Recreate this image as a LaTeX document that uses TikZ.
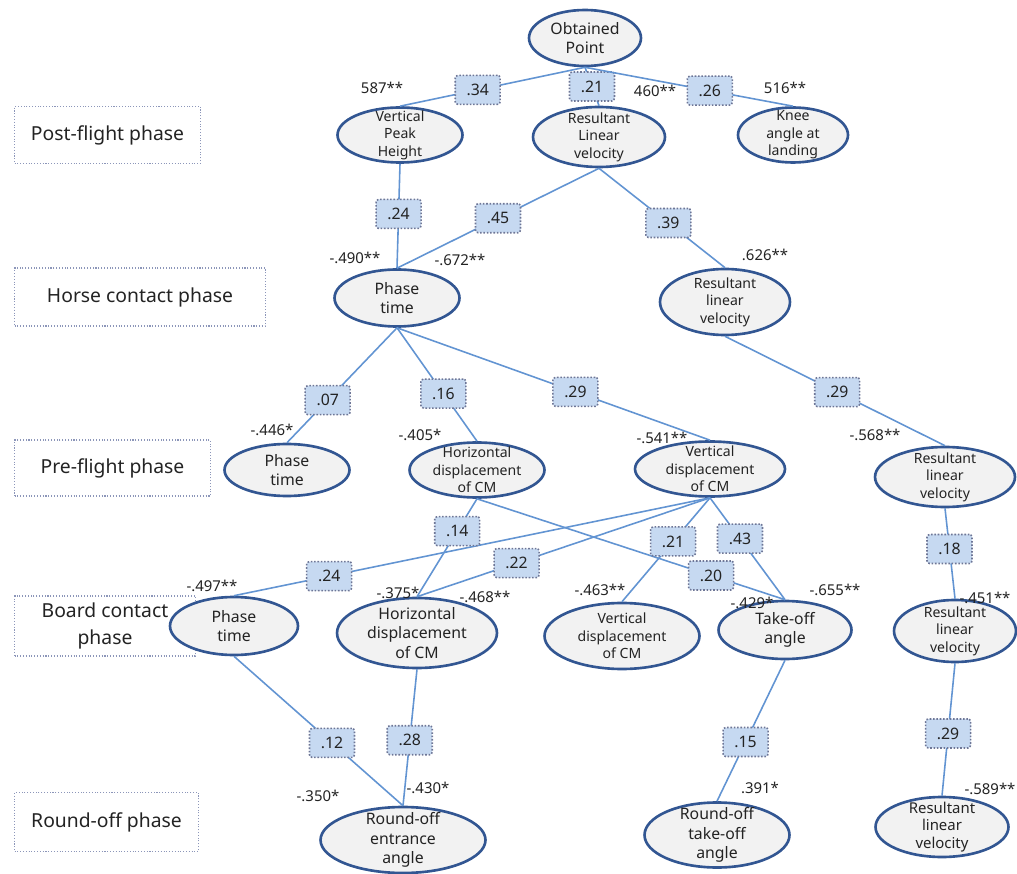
\documentclass[tikz,border=0pt]{standalone}
\usepackage{fontspec}
\setmainfont{Noto Sans}
\usetikzlibrary{shapes.geometric}

\definecolor{rim}{RGB}{50,86,146}
\definecolor{shade}{RGB}{242,242,242}
\definecolor{wire}{RGB}{98,148,210}
\definecolor{chip}{RGB}{198,217,241}
\definecolor{dots}{RGB}{110,118,150}
\definecolor{frame}{RGB}{140,150,185}
\definecolor{ink}{RGB}{35,35,35}

\begin{document}
\begin{tikzpicture}[
    x=0.02cm, y=-0.02cm,
    var/.style 2 args={ellipse, draw=rim, line width=1.5pt, fill=shade, minimum width=#1, minimum height=#2, inner sep=0pt},
    every label/.style={align=center, text=ink, font=\fontsize{8}{10}\selectfont, inner sep=0pt},
    big/.style={font=\fontsize{9}{11}\selectfont},
    phase/.style={draw=frame, densely dotted, line width=0.6pt, anchor=west, text=ink, font=\fontsize{11}{15}\selectfont, align=center},
    val/.style={draw=dots, densely dotted, fill=chip, rounded corners=1.5pt, minimum width=0.9cm, minimum height=0.58cm, inner sep=0pt, text=ink, font=\fontsize{9}{11}\selectfont},
    link/.style={draw=wire, line width=0.9pt},
    coef/.style={text=ink, font=\fontsize{8.5}{10}\selectfont, inner sep=0pt},
]
\useasboundingbox (0,0) rectangle (1017,874);

% post-flight phase
\node[phase, minimum width=3.72cm, minimum height=1.14cm] (post) at (14,135) {Post-flight phase};
\node[var={2.24cm}{1.12cm}, label={[big]center:Obtained\\Point}] (op) at (585,38) {};
\node[var={2.5cm}{1.1cm}, label={center:Vertical\\Peak\\Height}] (vph) at (400,135) {};
\node[var={2.64cm}{1.2cm}, label={center:Resultant\\Linear\\velocity}] (rlv1) at (599,137) {};
\node[var={2.2cm}{1.1cm}, label={center:Knee\\angle at\\landing}] (knee) at (793,135) {};

% horse contact phase
\node[phase, minimum width=5.02cm, minimum height=1.16cm] (horse) at (14,297) {Horse contact phase};
\node[var={2.5cm}{1.14cm}, label={[big]center:Phase\\time}] (pt1) at (397,298) {};
\node[var={2.6cm}{1.32cm}, label={center:Resultant\\linear\\velocity}] (rlv2) at (725,302) {};

% pre-flight phase
\node[phase, minimum width=3.92cm, minimum height=1.12cm] (pre) at (14,468) {Pre-flight phase};
\node[var={2.5cm}{1.04cm}, label={[big]center:Phase\\time}] (pt2) at (287,470) {};
\node[var={2.7cm}{1.1cm}, label={center:Horizontal\\displacement\\of CM}] (hd2) at (477,470) {};
\node[var={3.0cm}{1.1cm}, label={center:Vertical\\displacement\\of CM}] (vd2) at (710,469) {};
\node[var={2.8cm}{1.2cm}, label={center:Resultant\\linear\\velocity}] (rlv3) at (945,477) {};

% board contact phase
\node[phase, minimum width=3.62cm, minimum height=1.2cm] (board) at (14,626) {Board contact\\phase};
\node[var={2.56cm}{1.16cm}, label={[big]center:Phase\\time}] (pt3) at (234,626) {};
\node[var={3.2cm}{1.4cm}, label={[big]center:Horizontal\\displacement\\of CM}] (hd3) at (417,633) {};
\node[var={3.1cm}{1.32cm}, label={center:Vertical\\displacement\\of CM}] (vd3) at (622,636) {};
\node[var={2.66cm}{1.16cm}, label={[big]center:Take-off\\angle}] (to) at (785,630) {};
\node[var={2.44cm}{1.24cm}, label={center:Resultant\\linear\\velocity}] (rlv4) at (955,631) {};

% round-off phase
\node[phase, minimum width=3.68cm, minimum height=1.18cm] (round) at (14,822) {Round-off phase};
\node[var={3.3cm}{1.32cm}, label={[big]center:Round-off\\entrance\\angle}] (rea) at (403,840) {};
\node[var={2.9cm}{1.3cm}, label={[big]center:Round-off\\take-off\\angle}] (rta) at (717,835) {};
\node[var={2.66cm}{1.2cm}, label={[font=\fontsize{8.5}{10}\selectfont]center:Resultant\\linear\\velocity}] (rlv5) at (942,827) {};

% paths
\draw[link] (op.south) -- node[val, pos=0.58] (op-vph) {.34} (vph.north);
\draw[link] (op.south) -- node[val, pos=0.5] (op-rlv1) {.21} (rlv1.north);
\draw[link] (op.south) -- node[val, pos=0.6] (op-knee) {.26} (knee.north);
\draw[link] (vph.south) -- node[val, pos=0.48] (vph-pt1) {.24} (pt1.north);
\draw[link] (rlv1.south) -- node[val, pos=0.5] (rlv1-pt1) {.45} (pt1.north);
\draw[link] (rlv1.south) -- node[val, pos=0.55] (rlv1-rlv2) {.39} (rlv2.north);
\draw[link] (pt1.south) -- node[val, pos=0.63] (pt1-pt2) {.07} (pt2.north);
\draw[link] (pt1.south) -- node[val, pos=0.58] (pt1-hd2) {.16} (hd2.north);
\draw[link] (pt1.south) -- node[val, pos=0.57] (pt1-vd2) {.29} (vd2.north);
\draw[link] (rlv2.south) -- node[val, pos=0.51] (rlv2-rlv3) {.29} (rlv3.north);
\draw[link] (vd2.south) -- node[val, pos=0.8] (vd2-pt3) {.24} (pt3.north);
\draw[link] (vd2.south) -- node[val, pos=0.66] (vd2-hd3) {.22} (hd3.north);
\draw[link] (hd2.south) -- node[val, pos=0.33] (hd2-hd3) {.14} (hd3.north);
\draw[link] (hd2.south) -- node[val, pos=0.76] (hd2-to) {.20} (to.north);
\draw[link] (vd2.south) -- node[val, pos=0.42] (vd2-vd3) {.21} (vd3.north);
\draw[link] (vd2.south) -- node[val, pos=0.4] (vd2-to) {.43} (to.north);
\draw[link] (rlv3.south) -- node[val, pos=0.45] (rlv3-rlv4) {.18} (rlv4.north);
\draw[link] (pt3.south) -- node[val, pos=0.58] (pt3-rea) {.12} (rea.north);
\draw[link] (hd3.south) -- node[val, pos=0.52] (hd3-rea) {.28} (rea.north);
\draw[link] (to.south) -- node[val, pos=0.58] (to-rta) {.15} (rta.north);
\draw[link] (rlv4.south) -- node[val, pos=0.53] (rlv4-rlv5) {.29} (rlv5.north);

% coefficients
\node[coef] (c-vph) at (382,88) {587**};
\node[coef] (c-rlv1) at (655,91) {460**};
\node[coef] (c-knee) at (785,88) {516**};
\node[coef] (c-pt1a) at (355,258) {-.490**};
\node[coef] (c-pt1b) at (460,260) {-.672**};
\node[coef] (c-rlv2) at (765,255) {.626**};
\node[coef] (c-pt2) at (272,430) {-.446*};
\node[coef] (c-hd2) at (420,435) {-.405*};
\node[coef] (c-vd2) at (662,438) {-.541**};
\node[coef] (c-rlv3) at (875,435) {-.568**};
\node[coef] (c-pt3) at (212,586) {-.497**};
\node[coef] (c-hd3a) at (398,593) {-.375*};
\node[coef] (c-hd3b) at (485,597) {-.468**};
\node[coef] (c-vd3) at (600,590) {-.463**};
\node[coef] (c-to1) at (752,603) {-.429*};
\node[coef] (c-to2) at (835,590) {-.655**};
\node[coef] (c-rlv4) at (985,598) {-.451**};
\node[coef] (c-rea1) at (318,796) {-.350*};
\node[coef] (c-rea2) at (428,788) {-.430*};
\node[coef] (c-rta) at (760,788) {.391*};
\node[coef] (c-rlv5) at (990,789) {-.589**};

\end{tikzpicture}
\end{document}
